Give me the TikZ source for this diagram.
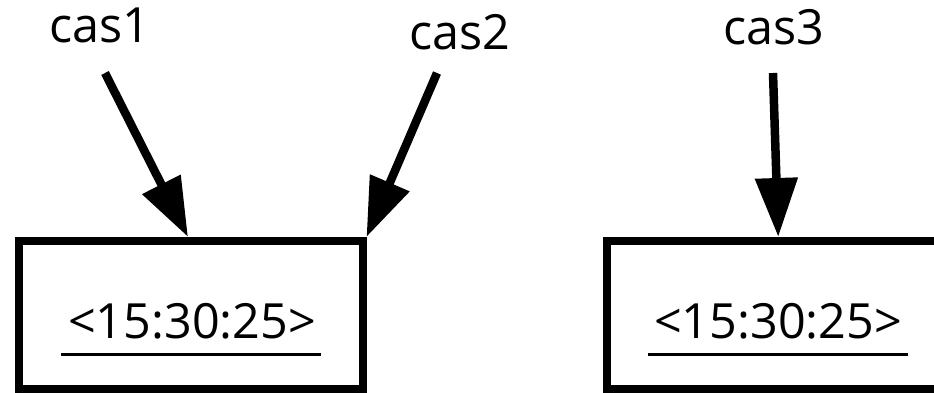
\documentclass[tikz,border=0pt]{standalone}
\usepackage{fontspec}
\setmainfont{Open Sans}
\usetikzlibrary{arrows.meta,calc}
\begin{document}
\begin{tikzpicture}[x=1pt,y=-1pt,
  box/.style={draw, line width=8pt, rectangle, inner sep=0pt, minimum width=343.5pt, minimum height=148pt},
  lbl/.style={inner sep=0pt, font=\fontsize{48.5}{52}\selectfont},
  conn/.style={line width=8.5pt, -{Triangle[length=59pt,width=41pt]}},
  uline/.style={line width=3pt}]
\clip (0,0) rectangle (934,393);
\path[use as bounding box] (0,0) rectangle (934,393);
% boxes
\node[box] (b1) at (190.75,315) {};
\node[box] (b2) at (778.25,315) {};
% texts
\node[lbl, anchor=base] (t1) at (192,338) {<15:30:25>};
\node[lbl, anchor=base] (t2) at (778,338) {<15:30:25>};
\draw[uline] ($(t1.base)+(-131,16)$) -- ($(t1.base)+(129,16)$);
\draw[uline] ($(t2.base)+(-130,16)$) -- ($(t2.base)+(130,16)$);
% labels
\node[lbl, anchor=base] (c1) at (100,43) {cas1};
\node[lbl, anchor=base] (c2) at (460,50) {cas2};
\node[lbl, anchor=base] (c3) at (774,45) {cas3};
\coordinate (s1) at (105,73);
\coordinate (s2) at (437,73);
\coordinate (s3) at (773,73);
% connectors
\draw[conn] (s1) -- ($(b1.north)+(-2.75,0)$);
\draw[conn] (s2) -- (b1.north east);
\draw[conn] (s3) -- (b2.north);
\end{tikzpicture}
\end{document}
